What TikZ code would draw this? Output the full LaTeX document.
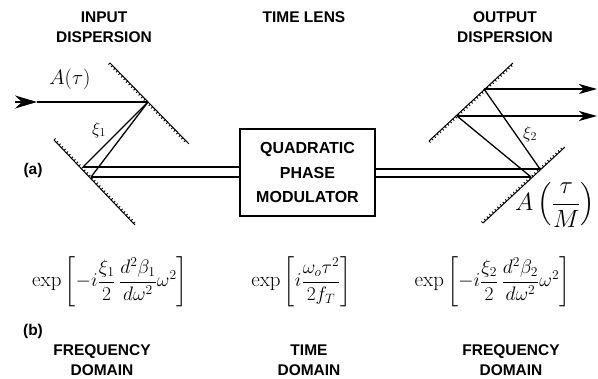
\documentclass[tikz,border=0pt]{standalone}
\usepackage{amsmath, amssymb}
\usepackage{fontspec}
\setsansfont{Liberation Sans}
\usetikzlibrary{calc, arrows.meta, decorations.pathreplacing}
\tikzset{
    beam/.style={line width=1.3pt},
    heading/.style={font=\sffamily\bfseries\fontsize{15.5}{20}\selectfont, align=center, inner sep=0pt},
    formula/.style={font=\fontsize{18.5}{22}\selectfont, scale=1.13},
    mirror/.style={line width=1pt, postaction={draw, line width=0.9pt, decorate,
        decoration={border, segment length=3.6pt, amplitude=2.2pt, angle=#1}}},
    inarrow/.style={beam, -{Stealth[length=22pt,width=13pt,inset=7pt]}},
    outarrow/.style={beam, -{Stealth[length=18pt,width=10pt,inset=5pt]}}
}
\begin{document}
\begin{tikzpicture}[x=1pt,y=-1pt]
    \useasboundingbox (0,0) rectangle (598,379);
    % --- 1. mirror end points and hit points ---
    \coordinate (MA) at (110,63);
    \coordinate (MB) at (189,144);
    \coordinate (MC) at (54,140);
    \coordinate (MD) at (135,225);
    \coordinate (ME) at (429,141);
    \coordinate (MF) at (513,63);
    \coordinate (MG) at (483,223);
    \coordinate (MH) at (565,147);
    \coordinate (S) at (15,102);
    \coordinate (S2) at (37,102);
    \coordinate (P) at (148,102);
    \coordinate (Q1) at (83,167);
    \coordinate (Q2) at (91,177);
    \coordinate (R1) at (540,169);
    \coordinate (R2) at (531,177);
    \coordinate (T1) at (484,89);
    \coordinate (T2) at (457,116);
    \coordinate (U1) at (597,89);
    \coordinate (U2) at (597,116);

    % --- 2. mirrors ---
    \draw[mirror=-90] (MA) -- (MB);
    \draw[mirror=90] (MC) -- (MD);
    \draw[mirror=-90] (ME) -- (MF);
    \draw[mirror=90] (MG) -- (MH);

    % --- 3. modulator ---
    \node[draw, line width=1.3pt, minimum width=135pt, minimum height=87pt, inner sep=0pt,
        font=\sffamily\bfseries\fontsize{16}{24.5}\selectfont, align=center] (BOX) at (307.5,172.5)
        {QUADRATIC\\PHASE\\MODULATOR};

    % --- 4. beams ---
    \draw[inarrow] (S) -- (S2);
    \draw[beam] (S2) -- (P);
    \draw[beam] (P) -- (Q1);
    \draw[beam] (P) -- (Q2);
    \draw[beam] (Q1) -- (Q1 -| BOX.west);
    \draw[beam] (Q2) -- (Q2 -| BOX.west);
    \draw[beam] (R1) -- (R1 -| BOX.east);
    \draw[beam] (R2) -- (R2 -| BOX.east);
    \draw[beam] (R1) -- (T1);
    \draw[beam] (R2) -- (T2);
    \draw[outarrow] (T1) -- (U1);
    \draw[outarrow] (T2) -- (U2);

    % --- 5. labels ---
    \node[heading] (h1) at (104,27) {INPUT\\DISPERSION};
    \node[heading] (h2) at (304,17) {TIME LENS};
    \node[heading] (h3) at (505,27) {OUTPUT\\DISPERSION};
    \node[heading] (h4) at (102,360.5) {FREQUENCY\\DOMAIN};
    \node[heading] (h5) at (309,360.5) {TIME\\DOMAIN};
    \node[heading] (h6) at (511,360.5) {FREQUENCY\\DOMAIN};
    \node[heading] (a) at (33,170) {(a)};
    \node[heading] (b) at (33,331) {(b)};

    \node[font=\fontsize{22}{26}\selectfont] (At) at (70,79) {$A(\tau)$};
    \node[font=\fontsize{24}{28}\selectfont] (AM) at (555,205) {$A\left(\dfrac{\tau}{M}\right)$};
    \node[font=\fontsize{17}{20}\selectfont] (x1) at (99,130) {$\xi_1$};
    \node[font=\fontsize{17}{20}\selectfont] (x2) at (530,134) {$\xi_2$};

    \node[formula] (e1) at (110,282)
        {$\exp\left[-i\dfrac{\xi_1}{2}\,\dfrac{d^2\beta_1}{d\omega^2}\omega^2\right]$};
    \node[formula] (e2) at (301.5,282)
        {$\exp\left[i\dfrac{\omega_o\tau^2}{2f_T}\right]$};
    \node[formula] (e3) at (492.5,282)
        {$\exp\left[-i\dfrac{\xi_2}{2}\,\dfrac{d^2\beta_2}{d\omega^2}\omega^2\right]$};
\end{tikzpicture}
\end{document}
